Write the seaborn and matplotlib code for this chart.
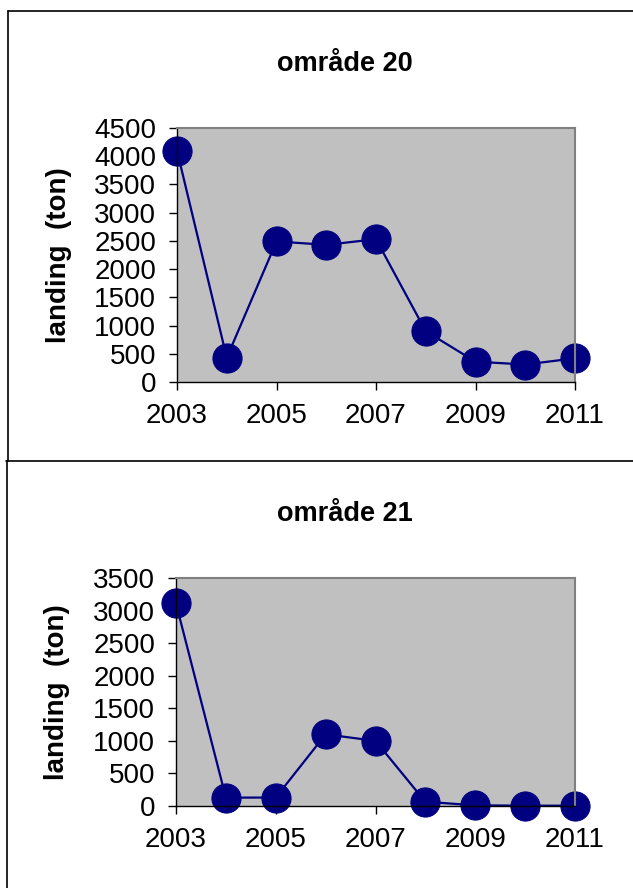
"""plot.py - landings per year for område 20 and 21 (two framed panels)."""

import matplotlib
matplotlib.use("Agg")
import matplotlib.pyplot as plt
import pandas as pd
import seaborn as sns
from matplotlib.lines import Line2D

years = [2003, 2004, 2005, 2006, 2007, 2008, 2009, 2010, 2011]
landing_20 = [4100, 430, 2490, 2430, 2530, 900, 360, 310, 420]
landing_21 = [3110, 128, 130, 1100, 1000, 65, 10, 5, 5]

titles = ["område 20", "område 21"]
ylims = [4500, 3500]
xticks = [2003, 2005, 2007, 2009, 2011]
ylabel = "landing  (ton)"

NAVY = "#000080"
PANEL_GREY = "#C0C0C0"

sns.set_theme(style="white")
plt.rcParams["font.family"] = ["Liberation Sans", "DejaVu Sans"]
plt.rcParams.update({
    "text.color": "black",
    "axes.labelcolor": "black",
    "xtick.color": "black",
    "ytick.color": "black",
})

fig = plt.figure(figsize=(6.33, 8.88), dpi=100)
W, H = 633, 888


def fx(px):
    return px / W


def fy(px):
    return 1 - px / H


# axes boxes in pixel coords: left, top, right, bottom
boxes = [(177, 128, 575, 382), (176, 578, 575, 806)]
title_y = [71, 521]

for i, (vals, title, ymax) in enumerate(zip([landing_20, landing_21], titles, ylims)):
    l, t, r, b = boxes[i]
    ax = fig.add_axes([fx(l), fy(b), fx(r) - fx(l), fy(t) - fy(b)])
    df = pd.DataFrame({"year": years, "landing": vals})
    sns.lineplot(
        data=df, x="year", y="landing", ax=ax,
        color=NAVY, linewidth=1.6, marker="o", markersize=21,
        markeredgecolor=NAVY, markerfacecolor=NAVY,
    )
    for ln in ax.lines:
        ln.set_clip_on(False)
    ax.set_facecolor(PANEL_GREY)
    ax.set_xlim(2003, 2011)
    ax.set_ylim(0, ymax)
    ax.set_xticks(xticks)
    ax.set_yticks(range(0, ymax + 1, 500))
    ax.tick_params(axis="both", direction="out", length=6, width=1,
                   color="black", labelcolor="black", labelsize=20, pad=9,
                   bottom=True, left=True)
    ax.set_xlabel("")
    ax.set_ylabel(ylabel, fontsize=20, fontweight="bold", color="black")
    ax.yaxis.set_label_coords(-0.265, 0.5)
    for side in ["left", "bottom"]:
        ax.spines[side].set_color("black")
        ax.spines[side].set_linewidth(1.0)
    for side in ["top", "right"]:
        ax.spines[side].set_color("#808080")
        ax.spines[side].set_linewidth(1.5)
    ax.spines["bottom"].set_zorder(3)
    fig.text(fx(345), fy(title_y[i]), title, ha="center", va="baseline",
             fontsize=19.5, fontweight="bold", color="black")

# panel frames (right and bottom edges fall outside the crop)
frame = [
    ((8, 8), (11, 461)),
    ((8, 633), (11, 11)),
    ((6, 633), (461, 461)),
    ((7, 7), (461, 888)),
]
for (x0, x1), (y0, y1) in frame:
    fig.add_artist(Line2D([fx(x0), fx(x1)], [fy(y0), fy(y1)],
                          transform=fig.transFigure, color="black", linewidth=1.2))

fig.savefig("out.png", dpi=100)
plt.close(fig)
